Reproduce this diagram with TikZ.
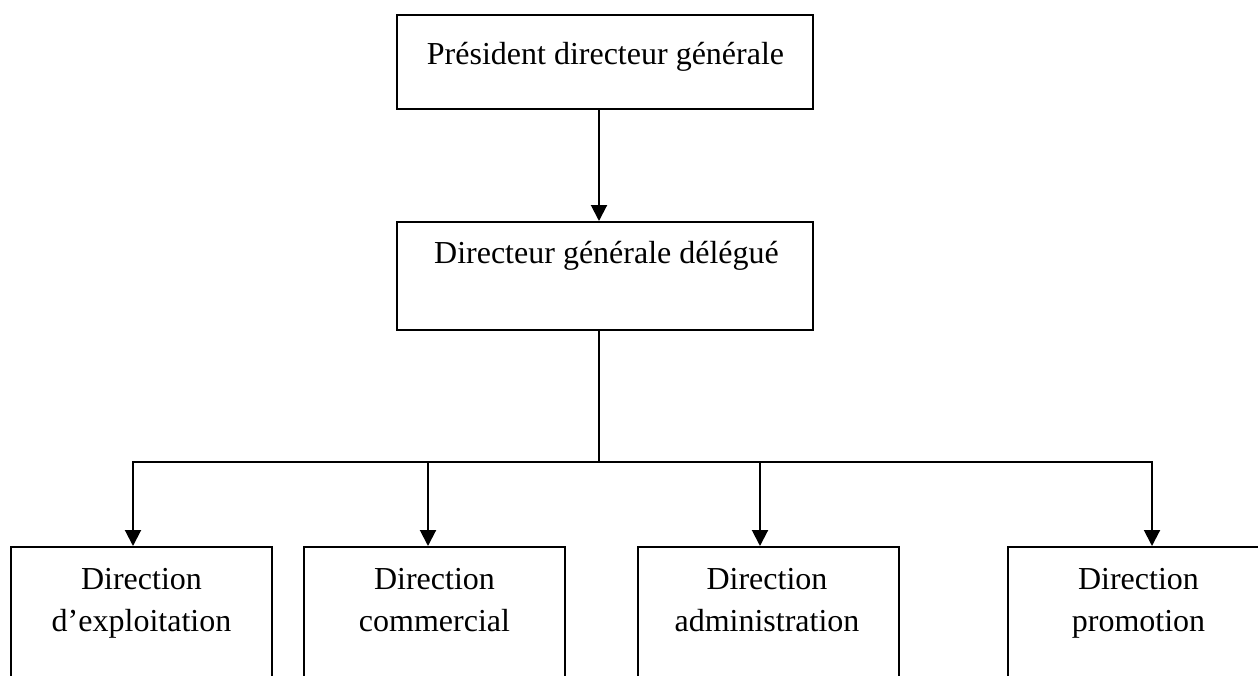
\documentclass[tikz,border=0pt]{standalone}
\usepackage{fontspec}
\setmainfont{Liberation Serif}
\usetikzlibrary{arrows.meta}
\begin{document}
\begin{tikzpicture}[x=1pt,y=-1pt,
  box/.style={draw, line width=2pt, inner sep=0pt},
  topbox/.style={box, minimum width=416pt},
  lowbox/.style={box, minimum width=261pt, minimum height=200pt},
  lbl/.style={anchor=base, inner sep=0pt, font=\fontsize{32}{42}\selectfont},
  conn/.style={line width=2pt},
  arr/.style={line width=2pt, -{Triangle[width=16pt,length=16pt]}}]
\useasboundingbox (0,0) rectangle (1258,675);
\clip (0,0) rectangle (1258,675);
% boxes
\node[topbox, minimum height=94pt] (pdg) at (605,62) {};
\node[topbox, minimum height=108pt] (dg) at (605,276) {};
\node[lowbox] (b1) at (141.5,647) {};
\node[lowbox] (b2) at (434.5,647) {};
\node[lowbox] (b3) at (768.5,647) {};
\node[lowbox] (b4) at (1138.5,647) {};
% labels
\node[lbl] (pdgt) at (605.5,64) {Président directeur générale};
\node[lbl] (dgt) at (606.5,263) {Directeur générale délégué};
\node[lbl] (b1t) at (141.5,589) {\begin{tabular}[t]{@{}c@{}}Direction\\d’exploitation\end{tabular}};
\node[lbl] (b2t) at (434.5,589) {\begin{tabular}[t]{@{}c@{}}Direction\\commercial\end{tabular}};
\node[lbl] (b3t) at (767,589) {\begin{tabular}[t]{@{}c@{}}Direction\\administration\end{tabular}};
\node[lbl] (b4t) at (1138.5,589) {\begin{tabular}[t]{@{}c@{}}Direction\\promotion\end{tabular}};
% connector points
\coordinate (bus) at (599,462);
\coordinate (c1) at (133,462);
\coordinate (c2) at (428,462);
\coordinate (c3) at (760,462);
\coordinate (c4) at (1152,462);
% connectors
\draw[arr] ([xshift=-6pt]pdg.south) -- ([xshift=-6pt]dg.north);
\draw[conn] ([xshift=-6pt]dg.south) -- (bus);
\draw[arr] (bus) -- (c1) -- (c1 |- b1.north);
\draw[arr] (bus) -- (c4) -- (c4 |- b4.north);
\draw[arr] (c2) -- (c2 |- b2.north);
\draw[arr] (c3) -- (c3 |- b3.north);
\end{tikzpicture}
\end{document}
